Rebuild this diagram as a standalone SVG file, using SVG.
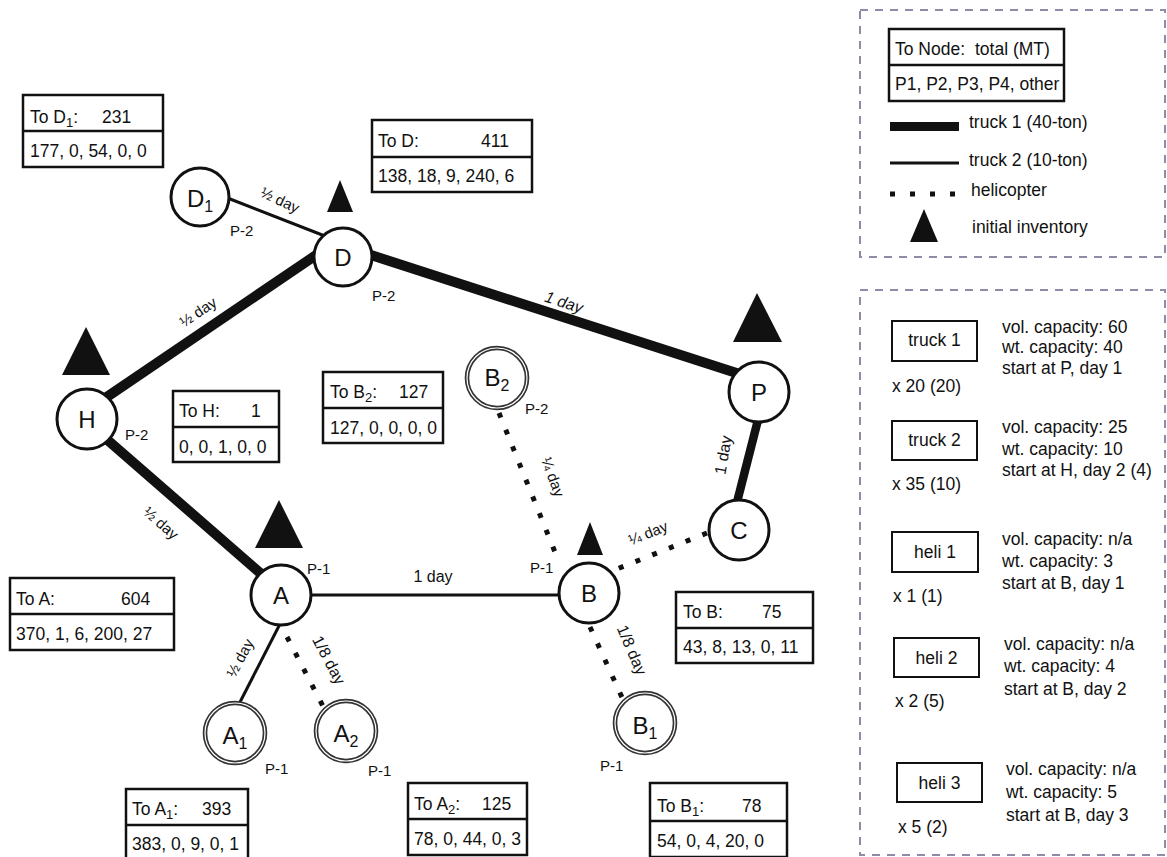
<svg xmlns="http://www.w3.org/2000/svg" width="1167" height="857" viewBox="0 0 1167 857">
<style>
text{font-family:"Liberation Sans",Arial,sans-serif;fill:#111}
.bt{font-size:17.5px}
.nl{font-size:24px;text-anchor:middle}
.pl{font-size:15px}
.el{font-size:15px;text-anchor:middle}
.box rect{fill:#fff;stroke:#111;stroke-width:2.5}
.box line{stroke:#111;stroke-width:2.5}
.nd{fill:#fff;stroke:#111;stroke-width:3}
.dbl{fill:#fff;stroke:#333;stroke-width:4.6}
.dbi{fill:none;stroke:#fff;stroke-width:1.2}
.thick{stroke:#111;stroke-width:10;fill:none}
.thin{stroke:#111;stroke-width:3;fill:none}
.dot{stroke:#111;stroke-width:5;stroke-dasharray:5 13;fill:none}
.tri{fill:#111}
.dash{fill:none;stroke:#8c8ca6;stroke-width:2;stroke-dasharray:8 7}
.vb{fill:#fff;stroke:#111;stroke-width:2}
</style>

<g id="connectors">
  <line class="thick" x1="95" y1="405" x2="325" y2="249"/>
  <line class="thick" x1="343" y1="246" x2="752" y2="378"/>
  <line class="thick" x1="96" y1="430" x2="274" y2="585"/>
  <line class="thick" x1="760" y1="412" x2="735" y2="510" style="stroke-width:8.5"/>
  <line class="thin" x1="225" y1="197" x2="330" y2="238"/>
  <line class="thin" x1="295" y1="595" x2="575" y2="595"/>
  <line class="thin" x1="281" y1="622" x2="238" y2="706"/>
  <line class="dot" x1="287" y1="637" x2="326" y2="712"/>
  <line class="dot" x1="499" y1="413" x2="559" y2="562"/>
  <line class="dot" x1="707" y1="533" x2="612" y2="571"/>
  <line class="dot" x1="590" y1="627" x2="625" y2="704"/>
  <text class="el" transform="translate(280,200) rotate(25)" dy="0.35em">½ day</text>
  <text class="el" transform="translate(198,312) rotate(-34)" dy="0.35em">½ day</text>
  <text class="el" transform="translate(564,302) rotate(18)" dy="0.35em" style="font-style:italic;font-size:16px">1 day</text>
  <text class="el" transform="translate(161,523) rotate(41)" dy="0.35em">½ day</text>
  <text class="el" transform="translate(553,477) rotate(70)" dy="0.35em">¼ day</text>
  <text class="el" transform="translate(723,455) rotate(-80)" dy="0.35em" style="font-size:16px">1 day</text>
  <text class="el" transform="translate(648,533) rotate(-22)" dy="0.35em">¼ day</text>
  <text class="el" x="433" y="582" style="font-size:16px">1 day</text>
  <text class="el" transform="translate(240,658) rotate(-62)" dy="0.35em">½ day</text>
  <text class="el" transform="translate(329,660) rotate(62)" dy="0.35em" style="font-size:16px">1/8 day</text>
  <text class="el" transform="translate(632,650) rotate(67)" dy="0.35em" style="font-size:16px">1/8 day</text>
</g>

<g id="node-D1">
  <circle class="nd" cx="200" cy="197" r="29"/>
  <text class="nl" x="200" y="207">D<tspan font-size="16" dy="5">1</tspan></text>
  <text class="pl" x="230" y="236">P-2</text>
</g>
<g id="node-D">
  <polygon class="tri" points="340,180 327,212 353,212"/>
  <circle class="nd" cx="343" cy="257" r="29"/>
  <text class="nl" x="343" y="266">D</text>
  <text class="pl" x="372" y="301">P-2</text>
</g>
<g id="node-H">
  <polygon class="tri" points="86,327 62,375 110,375"/>
  <circle class="nd" cx="87" cy="419" r="30"/>
  <text class="nl" x="87" y="428">H</text>
  <text class="pl" x="125" y="440">P-2</text>
</g>
<g id="node-A">
  <polygon class="tri" points="279,500 255,548 303,548"/>
  <circle class="nd" cx="281" cy="595" r="30"/>
  <text class="nl" x="281" y="604">A</text>
  <text class="pl" x="307" y="574">P-1</text>
</g>
<g id="node-B">
  <polygon class="tri" points="590,522 577,555 603,555"/>
  <circle class="nd" cx="589" cy="593" r="30"/>
  <text class="nl" x="589" y="602">B</text>
  <text class="pl" x="530" y="573">P-1</text>
</g>
<g id="node-P">
  <polygon class="tri" points="757,293 733,342 782,342"/>
  <circle class="nd" cx="759" cy="392" r="30"/>
  <text class="nl" x="759" y="401">P</text>
</g>
<g id="node-C">
  <circle class="nd" cx="739" cy="530" r="30"/>
  <text class="nl" x="739" y="539">C</text>
</g>
<g id="node-B2">
  <circle class="dbl" cx="497" cy="378" r="30"/>
  <circle class="dbi" cx="497" cy="378" r="30"/>
  <text class="nl" x="497" y="386">B<tspan font-size="16" dy="5">2</tspan></text>
  <text class="pl" x="525" y="414">P-2</text>
</g>
<g id="node-A1">
  <circle class="dbl" cx="235" cy="733" r="30"/>
  <circle class="dbi" cx="235" cy="733" r="30"/>
  <text class="nl" x="235" y="744">A<tspan font-size="16" dy="5">1</tspan></text>
  <text class="pl" x="265" y="774">P-1</text>
</g>
<g id="node-A2">
  <circle class="dbl" cx="346" cy="731" r="30"/>
  <circle class="dbi" cx="346" cy="731" r="30"/>
  <text class="nl" x="346" y="742">A<tspan font-size="16" dy="5">2</tspan></text>
  <text class="pl" x="368" y="776">P-1</text>
</g>
<g id="node-B1">
  <circle class="dbl" cx="645" cy="723" r="30"/>
  <circle class="dbi" cx="645" cy="723" r="30"/>
  <text class="nl" x="645" y="734">B<tspan font-size="16" dy="5">1</tspan></text>
  <text class="pl" x="600" y="771">P-1</text>
</g>

<g id="box-D1" class="box">
  <rect x="23" y="95" width="140" height="72"/><line x1="23" y1="131" x2="163" y2="131"/>
  <text class="bt" x="30" y="123">To D<tspan font-size="13" dy="4">1</tspan><tspan dy="-4">:</tspan></text>
  <text class="bt" x="102" y="123">231</text>
  <text class="bt" x="30" y="157">177, 0, 54, 0, 0</text>
</g>
<g id="box-D" class="box">
  <rect x="372" y="120" width="160" height="72"/><line x1="372" y1="157" x2="532" y2="157"/>
  <text class="bt" x="378" y="147">To D:</text>
  <text class="bt" x="481" y="147">411</text>
  <text class="bt" x="378" y="182">138, 18, 9, 240, 6</text>
</g>
<g id="box-H" class="box">
  <rect x="173" y="391" width="106" height="71"/><line x1="173" y1="427" x2="279" y2="427"/>
  <text class="bt" x="179" y="417">To H:</text>
  <text class="bt" x="251" y="417">1</text>
  <text class="bt" x="179" y="453">0, 0, 1, 0, 0</text>
</g>
<g id="box-B2" class="box">
  <rect x="323" y="372" width="120" height="71"/><line x1="323" y1="408" x2="443" y2="408"/>
  <text class="bt" x="330" y="398">To B<tspan font-size="13" dy="4">2</tspan><tspan dy="-4">:</tspan></text>
  <text class="bt" x="399" y="398">127</text>
  <text class="bt" x="330" y="434">127, 0, 0, 0, 0</text>
</g>
<g id="box-A" class="box">
  <rect x="10" y="578" width="164" height="72"/><line x1="10" y1="614" x2="174" y2="614"/>
  <text class="bt" x="16" y="605">To A:</text>
  <text class="bt" x="121" y="605">604</text>
  <text class="bt" x="16" y="640">370, 1, 6, 200, 27</text>
</g>
<g id="box-B" class="box">
  <rect x="676" y="592" width="137" height="71"/><line x1="676" y1="628" x2="813" y2="628"/>
  <text class="bt" x="683" y="618">To B:</text>
  <text class="bt" x="762" y="618">75</text>
  <text class="bt" x="683" y="653">43, 8, 13, 0, 11</text>
</g>
<g id="box-A1" class="box">
  <rect x="126" y="789" width="122" height="75"/><line x1="126" y1="825" x2="248" y2="825"/>
  <text class="bt" x="132" y="815">To A<tspan font-size="13" dy="4">1</tspan><tspan dy="-4">:</tspan></text>
  <text class="bt" x="202" y="815">393</text>
  <text class="bt" x="132" y="850">383, 0, 9, 0, 1</text>
</g>
<g id="box-A2" class="box">
  <rect x="408" y="783" width="119" height="72"/><line x1="408" y1="819" x2="527" y2="819"/>
  <text class="bt" x="414" y="810">To A<tspan font-size="13" dy="4">2</tspan><tspan dy="-4">:</tspan></text>
  <text class="bt" x="482" y="810">125</text>
  <text class="bt" x="414" y="845">78, 0, 44, 0, 3</text>
</g>
<g id="box-B1" class="box">
  <rect x="650" y="783" width="137" height="74"/><line x1="650" y1="821" x2="787" y2="821"/>
  <text class="bt" x="657" y="812">To B<tspan font-size="13" dy="4">1</tspan><tspan dy="-4">:</tspan></text>
  <text class="bt" x="742" y="812">78</text>
  <text class="bt" x="657" y="847">54, 0, 4, 20, 0</text>
</g>

<g id="legend">
  <rect class="dash" x="860" y="10" width="305" height="247"/>
  <g class="box">
    <rect x="889" y="29" width="175" height="72"/><line x1="889" y1="65" x2="1064" y2="65"/>
  </g>
  <text class="bt" x="895" y="55">To Node:</text>
  <text class="bt" x="975" y="55">total (MT)</text>
  <text class="bt" x="895" y="90">P1, P2, P3, P4, other</text>
  <line x1="890" y1="126.5" x2="959" y2="126.5" stroke="#111" stroke-width="9"/>
  <text class="bt" x="969" y="128">truck 1 (40-ton)</text>
  <line x1="890" y1="163" x2="959" y2="163" stroke="#111" stroke-width="3"/>
  <text class="bt" x="969" y="166">truck 2 (10-ton)</text>
  <line x1="890" y1="194" x2="960" y2="194" stroke="#111" stroke-width="5" stroke-dasharray="5 15"/>
  <text class="bt" x="971" y="196">helicopter</text>
  <polygon class="tri" points="924,209 910,242 938,242"/>
  <text class="bt" x="972" y="233">initial inventory</text>
</g>

<g id="fleet">
  <rect class="dash" x="860" y="290" width="305" height="565"/>
  <rect class="vb" x="892" y="321" width="85" height="40"/>
  <text class="bt" x="934.5" y="346" text-anchor="middle">truck 1</text>
  <text class="bt" x="892" y="392">x 20 (20)</text>
  <text class="bt" x="1002" y="333">vol. capacity: 60</text>
  <text class="bt" x="1002" y="353">wt. capacity: 40</text>
  <text class="bt" x="1002" y="374">start at P, day 1</text>

  <rect class="vb" x="892" y="421" width="85" height="39"/>
  <text class="bt" x="934.5" y="446" text-anchor="middle">truck 2</text>
  <text class="bt" x="892" y="490">x 35 (10)</text>
  <text class="bt" x="1002" y="433">vol. capacity: 25</text>
  <text class="bt" x="1002" y="455">wt. capacity: 10</text>
  <text class="bt" x="1002" y="476">start at H, day 2 (4)</text>

  <rect class="vb" x="892" y="532" width="86" height="40"/>
  <text class="bt" x="935" y="558" text-anchor="middle">heli 1</text>
  <text class="bt" x="893" y="602">x 1 (1)</text>
  <text class="bt" x="1002" y="545">vol. capacity: n/a</text>
  <text class="bt" x="1002" y="567">wt. capacity: 3</text>
  <text class="bt" x="1002" y="589">start at B, day 1</text>

  <rect class="vb" x="894" y="638" width="85" height="39"/>
  <text class="bt" x="936.5" y="664" text-anchor="middle">heli 2</text>
  <text class="bt" x="895" y="707">x 2 (5)</text>
  <text class="bt" x="1004" y="650">vol. capacity: n/a</text>
  <text class="bt" x="1004" y="672">wt. capacity: 4</text>
  <text class="bt" x="1004" y="695">start at B, day 2</text>

  <rect class="vb" x="897" y="763" width="85" height="39"/>
  <text class="bt" x="939.5" y="789" text-anchor="middle">heli 3</text>
  <text class="bt" x="898" y="833">x 5 (2)</text>
  <text class="bt" x="1006" y="775">vol. capacity: n/a</text>
  <text class="bt" x="1006" y="798">wt. capacity: 5</text>
  <text class="bt" x="1006" y="821">start at B, day 3</text>
</g>
</svg>
